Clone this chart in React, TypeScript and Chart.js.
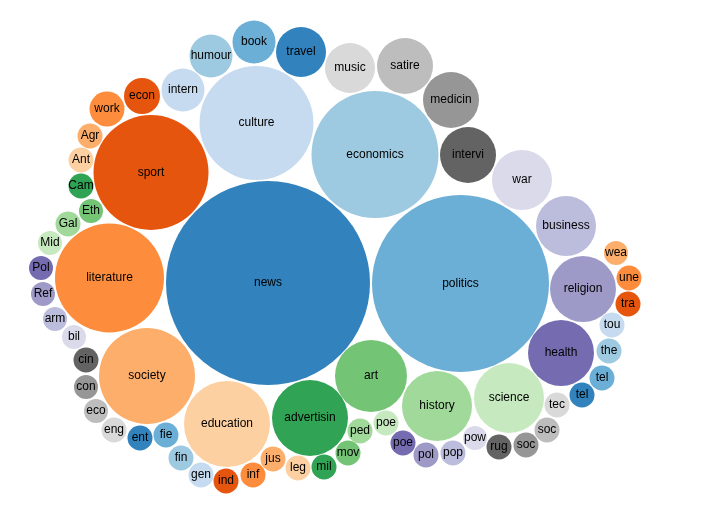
import React, { useEffect, useRef } from "react";
import { Chart, registerables } from "chart.js";

Chart.register(...registerables);

const labels: string[] = [
  "news", "politics", "economics", "culture", "sport", "literature", "society", "education",
  "advertisin", "art", "history", "science", "health", "religion", "business", "war",
  "intervi", "medicin", "satire", "music", "travel", "book", "humour", "intern",
  "econ", "work", "Agr", "Ant", "Cam", "Eth", "Gal", "Mid",
  "Pol", "Ref", "arm", "bil", "cin", "con", "eco", "eng",
  "ent", "fie", "fin", "gen", "ind", "inf", "jus", "leg",
  "mil", "mov", "ped", "poe", "poe", "pol", "pop", "pow",
  "rug", "soc", "soc", "tec", "tel", "tel", "the", "tou",
  "tra", "une", "wea",
];

const xs: number[] = [
  268, 460.5, 375, 256.5, 151, 109.5, 147, 227,
  310, 371, 437, 509, 561, 583, 566, 522,
  468, 451, 405, 350, 301, 254, 211, 183,
  142, 107, 90, 81, 81, 91, 68, 50,
  41, 43, 55, 74, 86, 86, 96, 114,
  140, 166, 181, 201, 226, 253, 273, 298,
  324, 348, 360, 386, 403, 426, 453, 475,
  499, 526, 547, 557, 582, 602, 609, 612,
  628, 629, 616,
];

const ys: number[] = [
  283, 283.5, 154.5, 123, 172.5, 278, 376, 424,
  418, 376, 406, 398, 353, 289, 226, 180,
  155, 100, 66, 68, 52, 42, 56, 90,
  96, 109, 136, 160, 186, 211, 224, 243,
  268, 294, 319, 337, 360, 387, 411, 430,
  438, 435, 458, 475, 481, 475, 459, 468,
  467, 453, 431, 423, 443, 455, 453, 438,
  447, 445, 430, 405, 395, 378, 351, 325,
  304, 278, 253,
];

const rs: number[] = [
  102, 88.5, 63.5, 57, 57.5, 54.5, 48, 43,
  38, 36, 35, 35, 33, 33, 30, 30,
  28, 28, 28, 25, 25, 21.5, 21.5, 21.5,
  18, 17.5, 12.5, 12.5, 12.5, 12, 12.5, 12,
  12, 12, 12, 12, 12.5, 12, 12, 12.5,
  12.5, 12.5, 12.5, 12.5, 12.5, 12.5, 12.5, 12.5,
  12.5, 12.5, 12.5, 12.5, 12.5, 12.5, 12.5, 12,
  12.5, 12.5, 12.5, 12.5, 12.5, 12.5, 12.5, 12.5,
  12.5, 12.5, 12,
];

const palette: string[] = [
  "#3182bd", "#6baed6", "#9ecae1", "#c6dbef", "#e6550d", "#fd8d3c", "#fdae6b", "#fdd0a2",
  "#31a354", "#74c476", "#a1d99b", "#c7e9c0", "#756bb1", "#9e9ac8", "#bcbddc", "#dadaeb",
  "#636363", "#969696", "#bdbdbd", "#d9d9d9",
];

const colors = labels.map((_, i) => palette[i % palette.length]);

const labelPlugin = {
  id: "bubbleLabels",
  afterDatasetsDraw(chart: any) {
    const ctx = chart.ctx;
    const meta = chart.getDatasetMeta(0);
    ctx.save();
    ctx.font = '12px "Liberation Sans", Arial, sans-serif';
    ctx.fillStyle = "#000";
    ctx.textAlign = "center";
    ctx.textBaseline = "middle";
    meta.data.forEach((el: any, i: number) => {
      ctx.fillText(labels[i], el.x, el.y);
    });
    ctx.restore();
  },
};

export default function App() {
  const ref = useRef<HTMLCanvasElement | null>(null);
  useEffect(() => {
    if (!ref.current) return;
    const chart = new Chart(ref.current, {
      type: "bubble",
      data: {
        datasets: [
          {
            label: "topics",
            data: labels.map((_, i) => ({ x: xs[i], y: ys[i], r: rs[i] })),
            backgroundColor: colors,
            borderWidth: 0,
            hoverBorderWidth: 0,
            hoverRadius: 0,
            clip: false,
          },
        ],
      },
      options: {
        animation: false,
        responsive: false,
        maintainAspectRatio: false,
        layout: { padding: 0, autoPadding: false },
        scales: {
          x: { type: "linear", display: false, min: 0, max: 710 },
          y: { type: "linear", display: false, min: 0, max: 510, reverse: true },
        },
        plugins: {
          legend: { display: false },
          tooltip: { enabled: false },
        },
        events: [],
      },
      plugins: [labelPlugin],
    });
    return () => chart.destroy();
  }, []);
  return (
    <div style={{ position: "absolute", left: 0, top: 0, width: 710, height: 510, background: "#fff" }}>
      <canvas ref={ref} width={710} height={510} style={{ width: 710, height: 510 }} />
    </div>
  );
}
